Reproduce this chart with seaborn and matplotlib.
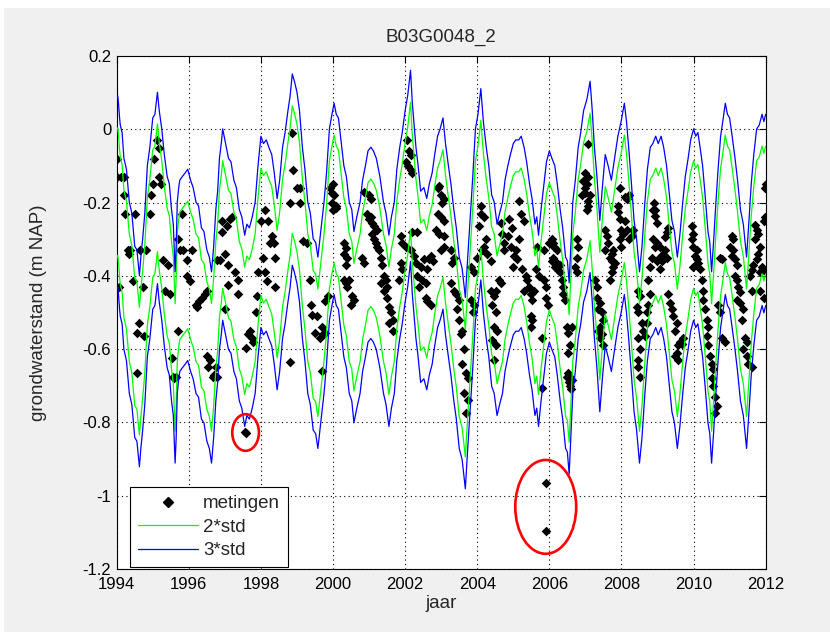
import numpy as np
import pandas as pd
import matplotlib
matplotlib.use("Agg")
import matplotlib.pyplot as plt
from matplotlib.patches import Ellipse, Rectangle
from matplotlib.lines import Line2D
import seaborn as sns

# Gemiddelde grondwaterstand (midden van de std-banden), (jaar, m NAP)
gemiddelde = [
    (1994.00, -0.175), (1994.03, -0.17), (1994.05, -0.19), (1994.08, -0.23), (1994.10, -0.25),
    (1994.15, -0.27), (1994.20, -0.34), (1994.27, -0.37), (1994.35, -0.46), (1994.42, -0.49),
    (1994.50, -0.58), (1994.56, -0.59), (1994.63, -0.66), (1994.67, -0.61), (1994.72, -0.56),
    (1994.78, -0.49), (1994.85, -0.36), (1994.92, -0.31), (1995.00, -0.23), (1995.06, -0.22),
    (1995.13, -0.16), (1995.18, -0.21), (1995.25, -0.26), (1995.32, -0.33), (1995.40, -0.39),
    (1995.46, -0.41), (1995.52, -0.48), (1995.57, -0.52), (1995.62, -0.65), (1995.65, -0.58),
    (1995.68, -0.46), (1995.72, -0.42), (1995.75, -0.40), (1995.82, -0.39), (1995.90, -0.38),
    (1995.97, -0.37), (1996.05, -0.40), (1996.12, -0.42), (1996.20, -0.46), (1996.27, -0.47),
    (1996.35, -0.53), (1996.42, -0.54), (1996.50, -0.59), (1996.57, -0.61), (1996.63, -0.65),
    (1996.69, -0.58), (1996.75, -0.48), (1996.80, -0.43), (1996.85, -0.34), (1996.90, -0.30),
    (1996.94, -0.26), (1997.02, -0.30), (1997.10, -0.34), (1997.17, -0.35), (1997.25, -0.40),
    (1997.32, -0.42), (1997.40, -0.48), (1997.47, -0.50), (1997.55, -0.55), (1997.61, -0.52),
    (1997.68, -0.53), (1997.76, -0.50), (1997.84, -0.46), (1997.92, -0.36), (1998.00, -0.28),
    (1998.07, -0.30), (1998.15, -0.29), (1998.22, -0.31), (1998.30, -0.33), (1998.37, -0.38),
    (1998.45, -0.45), (1998.52, -0.40), (1998.60, -0.31), (1998.67, -0.27), (1998.75, -0.21),
    (1998.81, -0.17), (1998.87, -0.11), (1998.93, -0.13), (1999.00, -0.16), (1999.07, -0.21),
    (1999.15, -0.31), (1999.22, -0.37), (1999.30, -0.46), (1999.37, -0.49), (1999.45, -0.56),
    (1999.52, -0.57), (1999.58, -0.61), (1999.66, -0.54), (1999.75, -0.46), (1999.82, -0.38),
    (1999.90, -0.26), (1999.97, -0.22), (2000.03, -0.19), (2000.09, -0.22), (2000.15, -0.23),
    (2000.22, -0.29), (2000.30, -0.36), (2000.37, -0.39), (2000.45, -0.46), (2000.52, -0.48),
    (2000.58, -0.54), (2000.66, -0.50), (2000.75, -0.46), (2000.82, -0.40), (2000.90, -0.36),
    (2000.97, -0.32), (2001.05, -0.31), (2001.12, -0.32), (2001.20, -0.34), (2001.30, -0.39),
    (2001.40, -0.46), (2001.47, -0.49), (2001.55, -0.55), (2001.62, -0.50), (2001.70, -0.46),
    (2001.77, -0.37), (2001.85, -0.31), (2001.92, -0.27), (2002.00, -0.21), (2002.07, -0.17),
    (2002.15, -0.10), (2002.20, -0.19), (2002.30, -0.31), (2002.36, -0.36), (2002.43, -0.43),
    (2002.52, -0.42), (2002.60, -0.45), (2002.67, -0.41), (2002.75, -0.38), (2002.82, -0.33),
    (2002.90, -0.28), (2002.97, -0.26), (2003.05, -0.23), (2003.12, -0.30), (2003.20, -0.36),
    (2003.27, -0.41), (2003.35, -0.48), (2003.42, -0.53), (2003.50, -0.61), (2003.58, -0.64),
    (2003.67, -0.72), (2003.73, -0.62), (2003.80, -0.51), (2003.87, -0.40), (2003.95, -0.26),
    (2004.02, -0.22), (2004.10, -0.15), (2004.17, -0.24), (2004.25, -0.31), (2004.32, -0.36),
    (2004.40, -0.44), (2004.47, -0.46), (2004.55, -0.52), (2004.62, -0.49), (2004.70, -0.46),
    (2004.77, -0.40), (2004.85, -0.36), (2004.92, -0.33), (2005.00, -0.30), (2005.07, -0.29),
    (2005.15, -0.29), (2005.22, -0.28), (2005.30, -0.31), (2005.37, -0.35), (2005.45, -0.41),
    (2005.52, -0.45), (2005.60, -0.52), (2005.65, -0.50), (2005.70, -0.55), (2005.77, -0.48),
    (2005.85, -0.41), (2005.92, -0.35), (2006.00, -0.32), (2006.07, -0.34), (2006.15, -0.36),
    (2006.22, -0.41), (2006.30, -0.48), (2006.37, -0.53), (2006.45, -0.61), (2006.50, -0.62),
    (2006.55, -0.68), (2006.60, -0.57), (2006.65, -0.46), (2006.72, -0.40), (2006.80, -0.31),
    (2006.87, -0.27), (2006.95, -0.21), (2007.04, -0.18), (2007.13, -0.13), (2007.19, -0.21),
    (2007.25, -0.31), (2007.32, -0.39), (2007.40, -0.51), (2007.47, -0.42), (2007.55, -0.33),
    (2007.63, -0.36), (2007.72, -0.40), (2007.81, -0.34), (2007.90, -0.28), (2007.99, -0.24),
    (2008.08, -0.19), (2008.14, -0.24), (2008.20, -0.31), (2008.27, -0.40), (2008.35, -0.51),
    (2008.42, -0.56), (2008.50, -0.65), (2008.57, -0.58), (2008.65, -0.46), (2008.72, -0.37),
    (2008.80, -0.31), (2008.87, -0.30), (2008.95, -0.28), (2009.02, -0.30), (2009.10, -0.28),
    (2009.17, -0.31), (2009.25, -0.36), (2009.32, -0.43), (2009.40, -0.51), (2009.47, -0.54),
    (2009.55, -0.61), (2009.62, -0.55), (2009.70, -0.46), (2009.77, -0.39), (2009.85, -0.34),
    (2009.92, -0.29), (2010.00, -0.26), (2010.06, -0.28), (2010.12, -0.27), (2010.18, -0.31),
    (2010.25, -0.36), (2010.32, -0.44), (2010.40, -0.54), (2010.45, -0.57), (2010.50, -0.65),
    (2010.56, -0.56), (2010.62, -0.46), (2010.68, -0.37), (2010.75, -0.28), (2010.81, -0.24),
    (2010.88, -0.19), (2010.94, -0.22), (2011.00, -0.23), (2011.07, -0.28), (2011.15, -0.34),
    (2011.22, -0.40), (2011.30, -0.48), (2011.38, -0.52), (2011.47, -0.61), (2011.53, -0.52),
    (2011.60, -0.41), (2011.67, -0.33), (2011.75, -0.26), (2011.82, -0.25), (2011.90, -0.22),
    (2011.95, -0.24), (2012.00, -0.22),
]
std = 0.087

# Metingen (jaar, m NAP)
metingen = [
    # 1994
    (1994.02, -0.08), (1994.00, -0.13), (1994.11, -0.13), (1994.20, -0.13), (1994.21, -0.18),
    (1994.23, -0.23), (1994.51, -0.23), (1994.91, -0.23), (1994.32, -0.33), (1994.37, -0.33),
    (1994.34, -0.34), (1994.65, -0.33), (1994.81, -0.33), (1994.46, -0.415), (1994.74, -0.43),
    (1994.63, -0.53), (1994.55, -0.555), (1994.77, -0.565), (1994.55, -0.665), (1994.07, -0.43),
    (1995.13, -0.03), (1995.16, -0.05), (1995.04, -0.08), (1995.18, -0.13), (1995.00, -0.15),
    (1995.23, -0.15), (1994.95, -0.18),
    # 1995
    (1995.29, -0.357), (1995.43, -0.37), (1995.34, -0.44), (1995.48, -0.45), (1995.71, -0.55),
    (1995.53, -0.625), (1995.55, -0.675), (1995.65, -0.675), (1995.59, -0.68), (1995.80, -0.23),
    (1995.76, -0.33), (1995.85, -0.33), (1996.08, -0.33), (1995.94, -0.356), (1995.96, -0.40),
    (1996.03, -0.415), (1995.71, -0.30),
    # 1996
    (1996.20, -0.48), (1996.27, -0.47), (1996.36, -0.46), (1996.45, -0.45), (1996.50, -0.44),
    (1996.23, -0.485), (1996.59, -0.63), (1996.53, -0.65), (1996.70, -0.67), (1996.76, -0.65),
    (1996.50, -0.62), (1996.67, -0.676), (1996.77, -0.676), (1996.77, -0.356), (1996.87, -0.356),
    (1997.00, -0.34), (1996.91, -0.28),
    # 1997
    (1997.05, -0.265), (1997.14, -0.245), (1997.19, -0.24), (1996.91, -0.25), (1997.10, -0.37),
    (1997.28, -0.39), (1997.37, -0.41), (1997.10, -0.425), (1997.00, -0.49), (1997.37, -0.45),
    (1997.65, -0.56), (1997.74, -0.57), (1997.79, -0.58), (1997.70, -0.55), (1997.60, -0.597),
    (1997.86, -0.50), (1997.88, -0.455),
    # 1998
    (1997.93, -0.39), (1998.11, -0.39), (1998.07, -0.35), (1998.20, -0.25), (1998.25, -0.31),
    (1998.35, -0.31), (1998.30, -0.29), (1998.16, -0.415), (1998.39, -0.43), (1998.40, -0.35),
    (1998.00, -0.25), (1998.12, -0.22), (1998.80, -0.635), (1998.80, -0.20), (1999.09, -0.20),
    (1998.85, -0.01), (1998.88, -0.11), (1998.99, -0.16), (1999.08, -0.16),
    # 1999
    (1999.18, -0.306), (1999.27, -0.31), (1999.36, -0.41), (1999.40, -0.48), (1999.55, -0.51),
    (1999.50, -0.555), (1999.64, -0.57), (1999.69, -0.54), (1999.73, -0.56), (1999.87, -0.456),
    (1999.78, -0.47), (1999.41, -0.507), (1999.77, -0.556), (1999.69, -0.66), (1999.92, -0.16),
    (1999.96, -0.175), (1999.97, -0.20), (2000.00, -0.22),
    # 2000
    (2000.00, -0.15), (2000.03, -0.18), (2000.07, -0.21), (2000.09, -0.215), (2000.30, -0.31),
    (2000.35, -0.325), (2000.30, -0.34), (2000.40, -0.35), (2000.35, -0.37), (2000.30, -0.41),
    (2000.35, -0.42), (2000.44, -0.41), (2000.40, -0.43), (2000.54, -0.455), (2000.49, -0.48),
    (2000.58, -0.465), (2000.86, -0.365), (2000.81, -0.35), (2000.86, -0.17), (2001.00, -0.18),
    (2001.04, -0.19), (2000.95, -0.23), (2001.05, -0.24), (2001.09, -0.255), (2001.14, -0.265),
    (2001.23, -0.275), (2001.00, -0.245),
    # 2001
    (2001.09, -0.285), (2001.14, -0.30), (2001.23, -0.32), (2001.18, -0.31), (2001.28, -0.33),
    (2001.32, -0.35), (2001.37, -0.37), (2001.41, -0.40), (2001.46, -0.41), (2001.32, -0.42),
    (2001.51, -0.43), (2001.41, -0.44), (2001.51, -0.46), (2001.55, -0.485), (2001.60, -0.50),
    (2001.65, -0.52), (2001.55, -0.53), (2001.65, -0.55), (2001.88, -0.365), (2001.92, -0.38),
    (2001.83, -0.41), (2001.88, -0.29), (2001.92, -0.31),
    # 2002
    (2002.06, -0.03), (2002.10, -0.06), (2002.15, -0.07), (2002.02, -0.09), (2002.08, -0.10),
    (2002.15, -0.11), (2002.20, -0.12), (2002.20, -0.28), (2002.34, -0.28), (2002.02, -0.32),
    (2002.16, -0.33), (2002.25, -0.345), (2002.30, -0.365), (2002.34, -0.40), (2002.48, -0.41),
    (2002.57, -0.42), (2002.39, -0.43), (2002.43, -0.375), (2002.52, -0.355), (2002.62, -0.38),
    (2002.71, -0.345), (2002.76, -0.36), (2002.66, -0.355), (2002.57, -0.46), (2002.71, -0.48),
    (2002.62, -0.47), (2002.90, -0.16), (2002.94, -0.155), (2002.99, -0.18), (2003.08, -0.19),
    (2003.03, -0.20), (2002.90, -0.23), (2002.99, -0.24), (2003.08, -0.25), (2002.85, -0.275),
    (2002.94, -0.285), (2003.08, -0.29),
    # 2003
    (2003.26, -0.33), (2003.36, -0.35), (2003.31, -0.365), (2002.99, -0.33), (2003.08, -0.32),
    (2003.26, -0.42), (2003.36, -0.44), (2003.40, -0.45), (2003.50, -0.465), (2003.45, -0.49),
    (2003.50, -0.52), (2003.59, -0.55), (2003.54, -0.56), (2003.63, -0.60), (2003.59, -0.64),
    (2003.68, -0.665), (2003.73, -0.68), (2003.63, -0.72), (2003.73, -0.74), (2003.68, -0.775),
    (2003.82, -0.375), (2003.91, -0.39), (2003.82, -0.465), (2003.91, -0.48), (2003.87, -0.50),
    # 2004
    (2004.00, -0.35), (2004.14, -0.33), (2004.23, -0.30), (2004.19, -0.32), (2004.05, -0.265),
    (2004.10, -0.23), (2004.19, -0.24), (2004.10, -0.21), (2004.28, -0.34), (2004.37, -0.36),
    (2004.37, -0.44), (2004.51, -0.44), (2004.47, -0.455), (2004.42, -0.48), (2004.51, -0.50),
    (2004.47, -0.54), (2004.56, -0.55), (2004.42, -0.575), (2004.51, -0.59), (2004.47, -0.63),
    (2004.60, -0.41), (2004.65, -0.42), (2004.70, -0.285), (2004.65, -0.255), (2004.88, -0.245),
    (2004.97, -0.27), (2004.84, -0.29), (2004.74, -0.31), (2004.74, -0.33), (2004.93, -0.32),
    (2005.07, -0.33), (2005.02, -0.345), (2005.11, -0.355), (2004.98, -0.375), (2005.16, -0.30),
    # 2005
    (2005.20, -0.23), (2005.30, -0.25), (2005.16, -0.195), (2005.25, -0.38), (2005.34, -0.40),
    (2005.39, -0.41), (2005.44, -0.43), (2005.48, -0.45), (2005.30, -0.44), (2005.53, -0.465),
    (2005.58, -0.44), (2005.48, -0.51), (2005.53, -0.52), (2005.50, -0.54), (2005.67, -0.32),
    (2005.85, -0.33), (2005.62, -0.38), (2005.72, -0.40), (2005.85, -0.41), (2005.90, -0.43),
    (2005.90, -0.46), (2005.95, -0.48), (2005.99, -0.31), (2006.08, -0.30), (2005.80, -0.57),
    (2005.80, -0.707),
    # 2006
    (2006.10, -0.31), (2006.14, -0.32), (2006.20, -0.33), (2006.10, -0.35), (2006.07, -0.36),
    (2006.20, -0.365), (2006.16, -0.375), (2006.25, -0.385), (2006.30, -0.37), (2006.30, -0.39),
    (2006.34, -0.41), (2006.39, -0.43), (2006.37, -0.45), (2006.43, -0.465), (2006.48, -0.54),
    (2006.53, -0.555), (2006.57, -0.59), (2006.53, -0.61), (2006.53, -0.665), (2006.57, -0.675),
    (2006.62, -0.685), (2006.55, -0.69), (2006.48, -0.675), (2006.63, -0.54), (2006.58, -0.70),
    (2006.60, -0.71), (2006.76, -0.30), (2006.80, -0.32), (2006.76, -0.35), (2006.71, -0.375),
    (2006.76, -0.39), (2007.08, -0.04), (2006.99, -0.12), (2007.08, -0.13), (2006.94, -0.14),
    (2007.04, -0.15), (2006.99, -0.16), (2006.90, -0.18), (2007.13, -0.18), (2006.99, -0.175),
    (2007.08, -0.195), (2007.08, -0.21), (2007.04, -0.22),
    # 2007
    (2007.31, -0.46), (2007.41, -0.475), (2007.36, -0.49), (2007.45, -0.50), (2007.41, -0.54),
    (2007.45, -0.56), (2007.27, -0.41), (2007.31, -0.43), (2007.50, -0.52), (2007.36, -0.55),
    (2007.40, -0.57), (2007.50, -0.59), (2007.54, -0.275), (2007.59, -0.29), (2007.64, -0.31),
    (2007.54, -0.33), (2007.68, -0.35), (2007.73, -0.36), (2007.82, -0.365), (2007.77, -0.375),
    (2007.73, -0.39), (2007.68, -0.41), (2007.91, -0.225), (2007.96, -0.245), (2007.91, -0.21),
    (2008.00, -0.275), (2008.10, -0.25), (2008.15, -0.275), (2008.05, -0.285), (2007.96, -0.16),
    (2008.20, -0.18), (2008.10, -0.185), (2008.15, -0.19), (2007.96, -0.30), (2008.00, -0.32),
    (2007.77, -0.33), (2007.73, -0.34),
    # 2008
    (2008.33, -0.275), (2008.28, -0.29), (2008.20, -0.30), (2008.47, -0.44), (2008.52, -0.455),
    (2008.42, -0.485), (2008.47, -0.50), (2008.56, -0.53), (2008.47, -0.57), (2008.52, -0.60),
    (2008.47, -0.63), (2008.52, -0.675), (2008.45, -0.65), (2008.75, -0.41), (2008.79, -0.45),
    (2008.75, -0.48), (2008.70, -0.50), (2008.70, -0.53), (2008.61, -0.55), (2008.66, -0.565),
    (2008.79, -0.375), (2008.84, -0.35), (2008.93, -0.32), (2008.88, -0.30), (2008.90, -0.20),
    (2008.93, -0.22), (2008.88, -0.22), (2008.93, -0.237), (2008.98, -0.255),
    # 2009
    (2008.98, -0.31), (2009.07, -0.32), (2009.16, -0.34), (2009.21, -0.33), (2009.25, -0.35),
    (2009.12, -0.36), (2009.03, -0.35), (2009.25, -0.28), (2009.21, -0.295), (2009.30, -0.27),
    (2008.98, -0.36), (2009.07, -0.38), (2009.30, -0.45), (2009.35, -0.475), (2009.39, -0.49),
    (2009.44, -0.51), (2009.53, -0.53), (2009.49, -0.55), (2009.58, -0.59), (2009.53, -0.61),
    (2009.58, -0.63), (2009.63, -0.58), (2009.67, -0.585), (2009.72, -0.57), (2009.49, -0.62),
    # 2010
    (2009.95, -0.265), (2009.99, -0.285), (2009.95, -0.30), (2009.99, -0.32), (2010.09, -0.33),
    (2010.04, -0.345), (2010.13, -0.365), (2009.99, -0.375), (2010.18, -0.38), (2010.09, -0.355),
    (2010.23, -0.41), (2010.27, -0.44), (2010.27, -0.465), (2010.32, -0.49), (2010.36, -0.52),
    (2010.41, -0.54), (2010.36, -0.565), (2010.41, -0.59), (2010.46, -0.62), (2010.50, -0.64),
    (2010.55, -0.655), (2010.50, -0.68), (2010.55, -0.70), (2010.60, -0.73), (2010.64, -0.755),
    (2010.60, -0.775), (2010.73, -0.35), (2010.78, -0.355), (2010.69, -0.48), (2010.73, -0.50),
    (2010.78, -0.57), (2010.87, -0.58),
    # 2011
    (2011.06, -0.29), (2011.10, -0.30), (2011.02, -0.32), (2011.10, -0.33), (2011.06, -0.345),
    (2011.15, -0.355), (2011.20, -0.37), (2011.15, -0.40), (2011.20, -0.41), (2011.24, -0.43),
    (2011.29, -0.445), (2011.20, -0.465), (2011.29, -0.475), (2011.38, -0.49), (2011.33, -0.52),
    (2011.43, -0.57), (2011.47, -0.58), (2011.38, -0.60), (2011.47, -0.62), (2011.52, -0.64),
    (2011.61, -0.65), (2011.57, -0.40), (2011.61, -0.44), (2011.70, -0.26), (2011.75, -0.275),
    (2011.80, -0.285), (2011.70, -0.30), (2011.84, -0.32), (2011.80, -0.34), (2011.75, -0.355),
    (2011.89, -0.375), (2011.94, -0.385), (2011.84, -0.39), (2011.66, -0.37), (2011.61, -0.385),
    (2011.84, -0.44), (2011.94, -0.46), (2011.98, -0.24), (2011.94, -0.25), (2012.00, -0.15),
    (2011.97, -0.16),
]

# omcirkelde uitschieters
uitschieters_1997 = [(1997.55, -0.825), (1997.60, -0.830)]
uitschieters_2005 = [(2005.90, -0.966), (2005.90, -1.095)]

x_ticks = [1994, 1996, 1998, 2000, 2002, 2004, 2006, 2008, 2010, 2012]
y_ticks = [-1.2, -1.0, -0.8, -0.6, -0.4, -0.2, 0.0, 0.2]
y_labels = ['-1.2', '-1', '-0.8', '-0.6', '-0.4', '-0.2', '0', '0.2']

band = pd.DataFrame(gemiddelde, columns=['jaar', 'gem'])
band['boven2'] = band['gem'] + 2 * std
band['onder2'] = band['gem'] - 2 * std
band['boven3'] = band['gem'] + 3 * std
band['onder3'] = band['gem'] - 3 * std

met = pd.DataFrame(metingen + uitschieters_1997 + uitschieters_2005, columns=['jaar', 'stand'])

sns.set_style('white')
plt.rcParams['font.family'] = ['Liberation Sans', 'DejaVu Sans']

fig = plt.figure(figsize=(8.3, 6.32), dpi=100, facecolor='white')
fig.patches.append(Rectangle((4 / 830, 0), 1, 1 - 8 / 632, transform=fig.transFigure,
                             facecolor='#f0f0f0', edgecolor='none', zorder=-10))
ax = fig.add_axes([0.1406, 0.0997, 0.7819, 0.8117])
ax.set_facecolor('white')

green = '#00ff00'
blue = '#0000ff'

sns.scatterplot(data=met, x='jaar', y='stand', marker='D', color='black', s=24,
                linewidth=0, ax=ax, zorder=3, legend=False)
for col, c in [('boven2', green), ('onder2', green), ('boven3', blue), ('onder3', blue)]:
    sns.lineplot(data=band, x='jaar', y=col, color=c, lw=0.9,
                 estimator=None, sort=False, ax=ax, zorder=4)

# rode ellipsen om de uitschieters
for pts, w, h in [(uitschieters_1997, 0.74, 0.10), (uitschieters_2005, 1.69, 0.256)]:
    cx = np.mean([p[0] for p in pts])
    cy = np.mean([p[1] for p in pts])
    ax.add_patch(Ellipse((cx, cy), w, h, fill=False, edgecolor='#ff0000', lw=1.9, zorder=5))

ax.set_xlim(1994, 2012)
ax.set_ylim(-1.2, 0.2)
ax.set_xticks(x_ticks)
ax.set_xticklabels([str(t) for t in x_ticks])
ax.set_yticks(y_ticks)
ax.set_yticklabels(y_labels)
ax.tick_params(direction='in', length=5, width=0.8, top=True, right=True,
               labelsize=12, colors='black')
ax.tick_params(axis='x', pad=6)
ax.tick_params(axis='y', pad=4)
for sp in ax.spines.values():
    sp.set_visible(True)
    sp.set_color('black')
    sp.set_linewidth(0.8)
ax.grid(True, color='black', linestyle=(0, (1, 3)), linewidth=0.8)

ax.set_title('B03G0048_2', fontsize=13.5, pad=10)
ax.set_xlabel('jaar', fontsize=13.5, labelpad=2)
ax.set_ylabel('grondwaterstand (m NAP)', fontsize=13.5)
ax.yaxis.set_label_coords(-0.107, 0.5)

handles = [
    Line2D([], [], color='black', marker='D', markersize=4.8, linestyle='none'),
    Line2D([], [], color=green, lw=0.9),
    Line2D([], [], color=blue, lw=0.9),
]
leg = ax.legend(handles, ['metingen', '2*std', '3*std'], loc='lower left',
                bbox_to_anchor=(0.0205, 0.004), borderaxespad=0, fancybox=False,
                edgecolor='black', framealpha=1, fontsize=13.5, handlelength=3.2,
                handletextpad=0.3, borderpad=0.4, labelspacing=0.35, numpoints=1)
leg.get_frame().set_linewidth(0.8)
leg.set_zorder(10)

fig.savefig('out.png', dpi=100, facecolor=fig.get_facecolor())
